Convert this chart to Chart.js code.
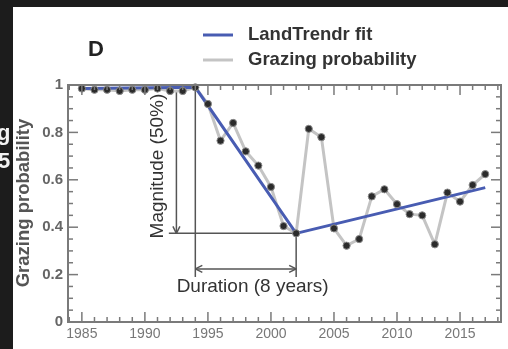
<!DOCTYPE html>
<html>
<head>
<meta charset="utf-8">
<script src="https://cdn.jsdelivr.net/npm/chart.js@4.4.1/dist/chart.umd.min.js"></script>
<style>
  html, body { margin: 0; padding: 0; background: #1c1c1c; }
  canvas { display: block; }
</style>
</head>
<body>
<canvas id="chart" width="508" height="349"></canvas>
<script>
const years = [1985, 1986, 1987, 1988, 1989, 1990, 1991, 1992, 1993, 1994, 1995,
  1996, 1997, 1998, 1999, 2000, 2001, 2002, 2003, 2004, 2005, 2006, 2007, 2008,
  2009, 2010, 2011, 2012, 2013, 2014, 2015, 2016, 2017]
const grazing = [0.985, 0.98, 0.98, 0.975, 0.98, 0.98, 0.985, 0.975, 0.975, 0.99, 0.92,
  0.765, 0.84, 0.72, 0.66, 0.57, 0.405, 0.374, 0.815, 0.78, 0.395, 0.322, 0.35, 0.53,
  0.56, 0.497, 0.455, 0.45, 0.328, 0.546, 0.508, 0.578, 0.624]

const fitYears = [1985, 1994, 2002, 2017]
const fitValues = [0.985, 0.99, 0.374, 0.567]

const xTicks = [1985, 1990, 1995, 2000, 2005, 2010, 2015]
const yTicks = [0, 0.2, 0.4, 0.6, 0.8, 1]

const BLUE = 'rgb(72, 92, 178)'
const GREY = 'rgb(196, 196, 196)'
const INK = '#555'
const FONT = '"Liberation Sans", Arial, sans-serif'

const grazingPoints = years.map((x, i) => ({x, y: grazing[i]}))
const fitPoints = fitYears.map((x, i) => ({x, y: fitValues[i]}))

const line = (ctx, x1, y1, x2, y2) => {
  ctx.beginPath()
  ctx.moveTo(x1, y1)
  ctx.lineTo(x2, y2)
  ctx.stroke()
}

// open "V" arrow head at (x, y) pointing in direction (dx, dy)
const arrowHead = (ctx, x, y, dx, dy) => {
  const len = 7, half = 3.5
  const bx = x - dx * len, by = y - dy * len
  line(ctx, x, y, bx - dy * half, by + dx * half)
  line(ctx, x, y, bx + dy * half, by - dx * half)
}

const backdrop = {
  id: 'backdrop',
  beforeDraw(chart) {
    const ctx = chart.ctx
    ctx.save()
    ctx.fillStyle = '#1c1c1c'
    ctx.fillRect(0, 0, chart.width, chart.height)
    ctx.fillStyle = '#fff'
    ctx.fillRect(13, 7, chart.width - 13, chart.height - 7)
    // clipped letters of the neighbouring panel
    ctx.fillStyle = '#f2f2f2'
    ctx.font = 'bold 22px ' + FONT
    ctx.textBaseline = 'middle'
    ctx.beginPath()
    ctx.rect(0, 7, 13, chart.height)
    ctx.clip()
    ctx.fillText('g', -3, 134)
    ctx.fillText('5', -2, 162)
    ctx.restore()
  }
}

const annotations = {
  id: 'annotations',
  beforeDatasetsDraw(chart) {
    const {ctx, scales: {x, y}} = chart
    ctx.save()
    ctx.strokeStyle = INK
    ctx.lineWidth = 1.5

    // duration brackets
    line(ctx, x.getPixelForValue(1994), y.getPixelForValue(1), x.getPixelForValue(1994), y.getPixelForValue(0.19))
    line(ctx, x.getPixelForValue(2002), y.getPixelForValue(0.374), x.getPixelForValue(2002), y.getPixelForValue(0.19))
    const dy = y.getPixelForValue(0.224)
    const dx1 = x.getPixelForValue(1994), dx2 = x.getPixelForValue(2002)
    line(ctx, dx1, dy, dx2, dy)
    arrowHead(ctx, dx1, dy, -1, 0)
    arrowHead(ctx, dx2, dy, 1, 0)

    // magnitude arrow and base line
    const by = y.getPixelForValue(0.374)
    line(ctx, x.getPixelForValue(1991.9), by, x.getPixelForValue(2002), by)
    const mx = x.getPixelForValue(1992.5)
    line(ctx, mx, y.getPixelForValue(0.972), mx, by)
    arrowHead(ctx, mx, by, 0, 1)

    ctx.fillStyle = '#333'
    ctx.font = '19px ' + FONT
    ctx.textAlign = 'center'
    ctx.textBaseline = 'middle'
    ctx.fillText('Duration (8 years)', x.getPixelForValue(1998.55), y.getPixelForValue(0.148))
    ctx.translate(x.getPixelForValue(1991.05), y.getPixelForValue(0.658))
    ctx.rotate(-Math.PI / 2)
    ctx.fillText('Magnitude (50%)', 0, 0)
    ctx.restore()
  }
}

const frame = {
  id: 'frame',
  afterDraw(chart) {
    const {ctx, chartArea: a, scales: {x, y}} = chart
    ctx.save()
    ctx.strokeStyle = '#7a7a7a'
    ctx.lineWidth = 1.5

    // inward ticks on all four sides
    for (let yr = 1984; yr <= 2018; yr++) {
      const px = x.getPixelForValue(yr)
      const len = yr % 5 === 0 ? 10 : 5
      line(ctx, px, a.bottom, px, a.bottom - len)
      line(ctx, px, a.top, px, a.top + len)
    }
    for (let k = 0; k <= 20; k++) {
      const py = y.getPixelForValue(k * 0.05)
      const len = k % 4 === 0 ? 10 : 5
      line(ctx, a.left, py, a.left + len, py)
      line(ctx, a.right, py, a.right - len, py)
    }
    ctx.lineWidth = 2
    ctx.strokeRect(a.left, a.top, a.right - a.left, a.bottom - a.top)

    // panel letter
    ctx.fillStyle = '#222'
    ctx.font = 'bold 22px ' + FONT
    ctx.textBaseline = 'middle'
    ctx.fillText('D', 88, 50)

    // legend
    ctx.lineWidth = 3
    ctx.strokeStyle = BLUE
    line(ctx, 203, 35, 233, 35)
    ctx.strokeStyle = GREY
    line(ctx, 203, 60, 233, 60)
    ctx.fillStyle = '#333'
    ctx.font = 'bold 18.5px ' + FONT
    ctx.fillText('LandTrendr fit', 248, 35)
    ctx.fillText('Grazing probability', 248, 60)

    // y axis title
    ctx.fillStyle = '#555'
    ctx.textAlign = 'center'
    ctx.translate(24, 203)
    ctx.rotate(-Math.PI / 2)
    ctx.fillText('Grazing probability', 0, 0)
    ctx.restore()
  }
}

new Chart(document.getElementById('chart'), {
  type: 'line',
  data: {
    datasets: [
      {
        data: grazingPoints,
        showLine: false,
        pointRadius: 3.6,
        pointBackgroundColor: '#2b2b2b',
        pointBorderColor: '#8a8a8a',
        pointBorderWidth: 1,
        order: 0,
        clip: false
      },
      {
        data: fitPoints,
        borderColor: BLUE,
        borderWidth: 3,
        pointRadius: 0,
        order: 1,
        clip: false
      },
      {
        data: grazingPoints,
        borderColor: GREY,
        borderWidth: 3,
        pointRadius: 0,
        order: 2,
        clip: false
      }
    ]
  },
  options: {
    responsive: false,
    animation: false,
    layout: { padding: { top: 85, right: 7, left: 0, bottom: 0 } },
    plugins: { legend: { display: false }, tooltip: { enabled: false } },
    scales: {
      x: {
        type: 'linear',
        min: 1983.9,
        max: 2018.25,
        grid: { display: false, drawTicks: false },
        border: { display: false },
        afterBuildTicks: (scale) => { scale.ticks = xTicks.map(value => ({value})) },
        afterFit: (scale) => { scale.height = 27 },
        ticks: {
          autoSkip: false,
          maxRotation: 0,
          padding: 4,
          color: '#777',
          font: { family: FONT, size: 14 },
          callback: (v) => String(v)
        }
      },
      y: {
        min: 0,
        max: 1,
        grid: { display: false, drawTicks: false },
        border: { display: false },
        afterBuildTicks: (scale) => { scale.ticks = yTicks.map(value => ({value})) },
        afterFit: (scale) => { scale.width = 68 },
        ticks: {
          padding: 5,
          color: '#666',
          font: { family: FONT, size: 15, weight: 'bold' },
          callback: (v) => (v === 0 || v === 1) ? String(v) : v.toFixed(1)
        }
      }
    }
  },
  plugins: [backdrop, annotations, frame]
})
</script>
</body>
</html>
